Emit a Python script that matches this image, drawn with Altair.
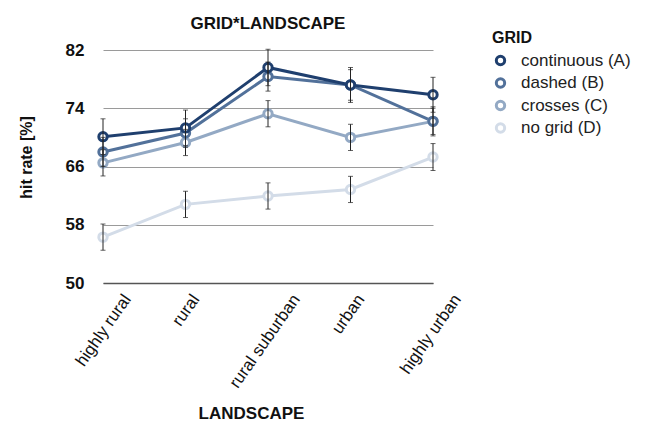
import altair as alt
import pandas as pd

landscape = ["highly rural", "rural", "rural suburban", "urban", "highly urban"]
grids = ["continuous (A)", "dashed (B)", "crosses (C)", "no grid (D)"]
colors = ["#1f3f6e", "#52719a", "#93a9c4", "#d3dce8"]

hit_a = [70.1, 71.3, 79.6, 77.2, 75.85]
hit_b = [68.0, 70.6, 78.35, 77.2, 72.2]
hit_c = [66.5, 69.3, 73.25, 70.0, 72.2]
hit_d = [56.3, 60.8, 61.95, 62.85, 67.3]

err_a = [2.45, 2.45, 2.5, 2.4, 2.4]
err_b = [2.0, 1.95, 2.0, 2.1, 2.0]
err_c = [1.8, 1.8, 1.8, 1.8, 1.8]
err_d = [1.8, 1.8, 1.8, 1.8, 1.85]

rows = []
for g, hs, es in zip(grids, [hit_a, hit_b, hit_c, hit_d], [err_a, err_b, err_c, err_d]):
    for l, h, e in zip(landscape, hs, es):
        rows.append({"grid": g, "landscape": l, "hit": h, "lo": h - e, "hi": h + e,
                     "ord": grids.index(g)})
df = pd.DataFrame(rows)
df = df.iloc[::-1].reset_index(drop=True)

font = "Liberation Sans"
ink = "#111111"

x = alt.X("landscape:N", sort=landscape, scale=alt.Scale(type="point", padding=0),
          axis=alt.Axis(title="LANDSCAPE", labelAngle=-55, labelAlign="right",
                        labelBaseline="middle", labelFontSize=17, labelFont=font,
                        labelColor=ink, labelPadding=13, grid=False,
                        labelOffset=alt.ExprRef("length(datum.label)*2"),
                        ticks=False, domainColor="#555", domainWidth=1.5,
                        titleFont=font, titleFontSize=17, titleFontWeight="bold",
                        titleColor=ink, titleX=148, titleY=130,
                        titleAlign="center", titleBaseline="middle"))
y = alt.Y("hit:Q", scale=alt.Scale(domain=[50, 82], nice=False, zero=False),
          axis=alt.Axis(title="hit rate [%]", values=[50, 58, 66, 74, 82],
                        labelFontSize=17, labelFontWeight="bold", labelFont=font,
                        labelColor=ink, labelPadding=19, ticks=False, domain=False,
                        gridColor="#9a9a9a", gridWidth=1,
                        titleFont=font, titleFontSize=16, titleFontWeight="bold",
                        titleColor=ink, titleX=-77, titleY=107, titleAngle=-90,
                        titleAlign="center", titleBaseline="middle"))
color = alt.Color("grid:N", sort=grids, scale=alt.Scale(domain=grids, range=colors),
                  legend=alt.Legend(title="GRID", orient="none", legendX=389, legendY=-20,
                                    titleFont=font, titleFontSize=16, titleFontWeight="bold",
                                    titleColor=ink, labelFont=font, labelFontSize=17,
                                    labelColor="#222", symbolType="circle", symbolSize=70,
                                    symbolStrokeWidth=3, symbolFillColor="white",
                                    rowPadding=1.5, labelOffset=12, titlePadding=6))

base = alt.Chart(df)
lines = base.mark_line(strokeWidth=3).encode(x=x, y=y, color=color, order=alt.Order("ord:Q"))
pts = base.mark_point(filled=False, fill="white", fillOpacity=1, strokeWidth=3, size=70,
                      opacity=1).encode(x=x, y=y, color=color)
rules = base.mark_rule(color="#222", strokeWidth=1).encode(x=x, y="lo:Q", y2="hi:Q")
cap_lo = base.mark_tick(color="#222", thickness=1, size=5, orient="horizontal").encode(x=x, y="lo:Q")
cap_hi = base.mark_tick(color="#222", thickness=1, size=5, orient="horizontal").encode(x=x, y="hi:Q")

chart = alt.layer(lines, pts, rules, cap_lo, cap_hi).properties(
    width=330, height=233,
    title=alt.TitleParams("GRID*LANDSCAPE", font=font, fontSize=17, fontWeight="bold",
                          color=ink, anchor="middle", frame="group", dy=7),
    autosize=alt.AutoSizeParams(type="none"),
    padding={"left": 95, "top": 42, "right": 204, "bottom": 141},
).configure(background="white").configure_view(strokeWidth=0, stroke="transparent")

chart.save("out.html", embed_options={"renderer": "svg", "actions": False})
